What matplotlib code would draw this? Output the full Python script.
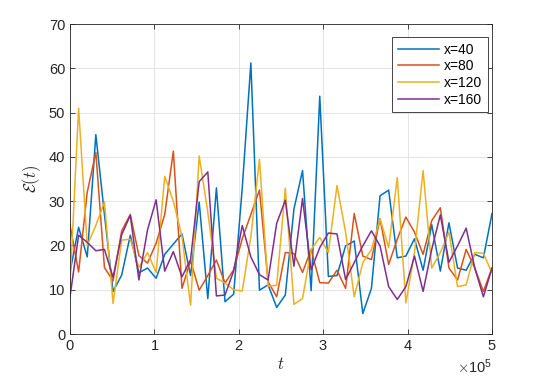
import numpy as np
import matplotlib
matplotlib.use("Agg")
import matplotlib.pyplot as plt
from matplotlib.ticker import ScalarFormatter

plt.rcParams['font.family'] = ['Liberation Sans', 'DejaVu Sans']
plt.rcParams['mathtext.fontset'] = 'cm'

t = np.linspace(0, 5e5, 50)

e_x40 = [14, 24.1, 17.4, 45, 27, 9.6, 13.3, 22.3, 13.8, 14.9,
         12.6, 18, 20.3, 22.6, 13.2, 29.8, 8, 33, 7.3, 9,
         33, 61.2, 9.9, 11.1, 6, 8.8, 28.2, 36.9, 9.8, 53.7,
         13, 13.2, 19.9, 21, 4.6, 10.3, 31.2, 32.5, 17.2, 17.6,
         21.5, 14.4, 24.7, 14.2, 25.1, 14.9, 14.4, 18, 17.2, 27.2]
e_x80 = [24.6, 14, 32, 41, 15, 12, 23.3, 27, 17.7, 16,
         20.5, 27, 41.3, 10.3, 16.5, 9.9, 13.2, 16.7, 11.5, 14.5,
         21.5, 27, 32.5, 11.8, 8.4, 18.4, 18.2, 13.9, 19.1, 11.6,
         11.5, 14.4, 10.3, 27.2, 17.6, 16.8, 26, 15.7, 21.4, 26.4,
         23, 18, 25.6, 28.5, 14.9, 12.2, 19.1, 14.9, 9.6, 14.9]
e_x120 = [11, 51, 20, 24.5, 29.8, 6.9, 21.2, 21.4, 15, 18.4,
          13.9, 35.6, 30, 22, 6.5, 40.2, 27.5, 12.6, 11.5, 10,
          9.7, 22, 39.4, 10.8, 11, 32.9, 6.7, 8, 19.1, 21.8,
          18.4, 33.5, 23, 8.4, 16.1, 19.1, 26, 19.5, 35.3, 7,
          18.4, 36.9, 14.9, 18.4, 23, 10.7, 11.1, 18.4, 18.2, 13.8]
e_x160 = [8.4, 22.3, 20.7, 18.8, 19.1, 12.8, 22.4, 26.8, 12.2, 23.5,
          30.3, 14.2, 18.6, 12.9, 16.8, 34.4, 36.6, 8.6, 8.8, 14.2,
          24.5, 17.4, 13.4, 12.2, 25, 30.2, 15.3, 30.6, 14.5, 19.5,
          22.8, 22.6, 12.3, 16.1, 19.9, 23.3, 19.9, 10.7, 7.8, 10.7,
          17.6, 9.6, 19.1, 26.9, 16.2, 19.9, 23.9, 14.9, 8.4, 14.9]

labels = ['x=40', 'x=80', 'x=120', 'x=160']
colors = ['#0072BD', '#D95319', '#EDB120', '#7E2F8E']
series = [e_x40, e_x80, e_x120, e_x160]

fig = plt.figure(figsize=(5.45, 3.82), dpi=100)
ax = fig.add_axes([70/545, 48/382, 422/545, 310/382])

for y, c, lab in zip(series, colors, labels):
    ax.plot(t, y, color=c, lw=1.1, label=lab)

ax.set_xlim(0, 5e5)
ax.set_ylim(0, 70)
ax.set_xticks(np.arange(0, 5.01e5, 1e5))
ax.set_yticks(np.arange(0, 71, 10))
fmt = ScalarFormatter(useMathText=True)
fmt.set_powerlimits((0, 0))
ax.xaxis.set_major_formatter(fmt)
ax.xaxis.get_offset_text().set_fontsize(10.5)
ax.xaxis.get_offset_text().set_color('#262626')

ax.grid(True, color='#DFDFDF', lw=0.6)
ax.set_axisbelow(True)
for s in ax.spines.values():
    s.set_color('#262626')
    s.set_linewidth(0.6)
ax.tick_params(direction='in', top=True, right=True, length=3.5, width=0.6,
               colors='#262626', labelsize=10.5, labelcolor='#262626')

ax.set_xlabel(r'$t$', fontsize=12, color='#262626', labelpad=2)
ax.set_ylabel(r'$\mathcal{E}(t)$', fontsize=12, color='#262626', labelpad=4)

leg = ax.legend(loc='upper right', bbox_to_anchor=(0.9905, 0.958),
                fontsize=10, frameon=True, fancybox=False,
                edgecolor='#262626', framealpha=1, handlelength=3.0,
                borderpad=0.4, labelspacing=0.2, handletextpad=0.35,
                borderaxespad=0.0)
leg.get_frame().set_linewidth(0.6)

fig.savefig('out.png', dpi=100)
